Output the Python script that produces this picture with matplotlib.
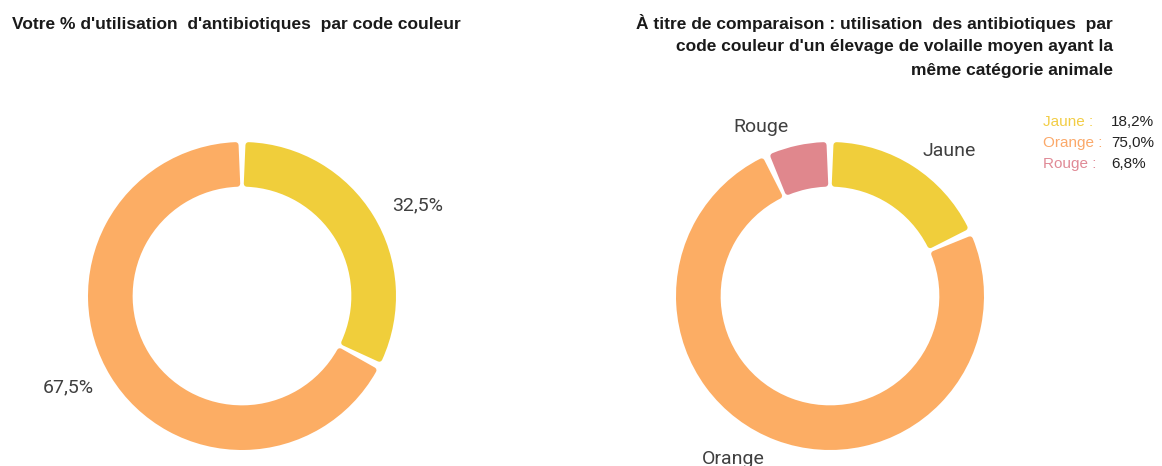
import numpy as np
import matplotlib
matplotlib.use("Agg")
import matplotlib.pyplot as plt

W, H = 1162, 466

# data
left_cats = ["Jaune", "Orange"]
left_vals = [32.5, 67.5]
left_labels = ["32,5%", "67,5%"]

right_cats = ["Jaune", "Orange", "Rouge"]
right_vals = [18.2, 75.0, 6.8]
right_labels = ["Jaune", "Orange", "Rouge"]

legend_txt = ["Jaune :", "Orange :", "Rouge :"]
legend_vals = ["18,2%", "75,0%", "6,8%"]

colors = {"Jaune": "#F0CE3B", "Orange": "#FCAD64", "Rouge": "#E0878D"}
legend_colors = {"Jaune": "#F2CD45", "Orange": "#FBA96A", "Rouge": "#E08A96"}

fig = plt.figure(figsize=(W / 100, H / 100), dpi=100)


def px(x, y):
    return x / W, 1 - y / H


def donut(cx, cy, r, vals, cats, labels, dists, offs):
    ax = fig.add_axes([(cx - r) / W, (H - cy - r) / H, 2 * r / W, 2 * r / H])
    wedges, _ = ax.pie(vals, colors=[colors[c] for c in cats], startangle=90,
                       counterclock=False, radius=1, wedgeprops=dict(width=0.29))
    # rounded corners: shrink every wedge and stroke it in its own colour
    d = 3.0 / r
    for w in wedges:
        fc = w.get_facecolor()
        mid_r = 1 - 0.29 / 2
        dth = np.rad2deg((d + 2.6 / r) / mid_r)
        w.set_radius(1 - d)
        w.set_width(0.29 - 2 * d)
        w.set_theta1(w.theta1 + dth)
        w.set_theta2(w.theta2 - dth)
        w.set_edgecolor(fc)
        w.set_linewidth(4.3)
        w.set_joinstyle("round")
    for w, lab, dist, off in zip(wedges, labels, dists, offs):
        ang = np.deg2rad((w.theta1 + w.theta2) / 2 + off)
        ax.text(dist * np.cos(ang), dist * np.sin(ang), lab, ha="center",
                va="center_baseline", fontsize=14, color="#404040", family="Roboto")
    ax.set_xlim(-1, 1)
    ax.set_ylim(-1, 1)
    ax.set_aspect("equal")
    ax.axis("off")
    return ax


ax1 = donut(242, 296, 154, left_vals, left_cats, left_labels,
            [1.29, 1.27], [-3.6, -4.4])
ax2 = donut(830, 296, 154, right_vals, right_cats, right_labels,
            [1.23, 1.22, 1.20], [-6.4, -10.3, 9.7])

# titles
fig.text(*px(12, 24), "Votre % d'utilisation  d'antibiotiques  par code couleur",
         ha="left", va="center", fontsize=12.5, fontweight="bold",
         family="Liberation Sans", color="#1a1a1a")
title2 = ["À titre de comparaison : utilisation  des antibiotiques  par",
          "code couleur d'un élevage de volaille moyen ayant la",
          "même catégorie animale"]
for i, t in enumerate(title2):
    fig.text(*px(1113, 23 + 24 * i), t, ha="right", va="center", fontsize=12.5,
             fontweight="bold", family="Liberation Sans", color="#1a1a1a")

# legend
for i, (c, t, v) in enumerate(zip(right_cats, legend_txt, legend_vals)):
    y = 122 + 21 * i
    fig.text(*px(1043, y), t, ha="left", va="center", fontsize=11,
             family="Liberation Sans", color=legend_colors[c])
    fig.text(*px(1111, y), v, ha="left", va="center", fontsize=11,
             family="Liberation Sans", color="#222222")

fig.savefig("out.png", dpi=100)
